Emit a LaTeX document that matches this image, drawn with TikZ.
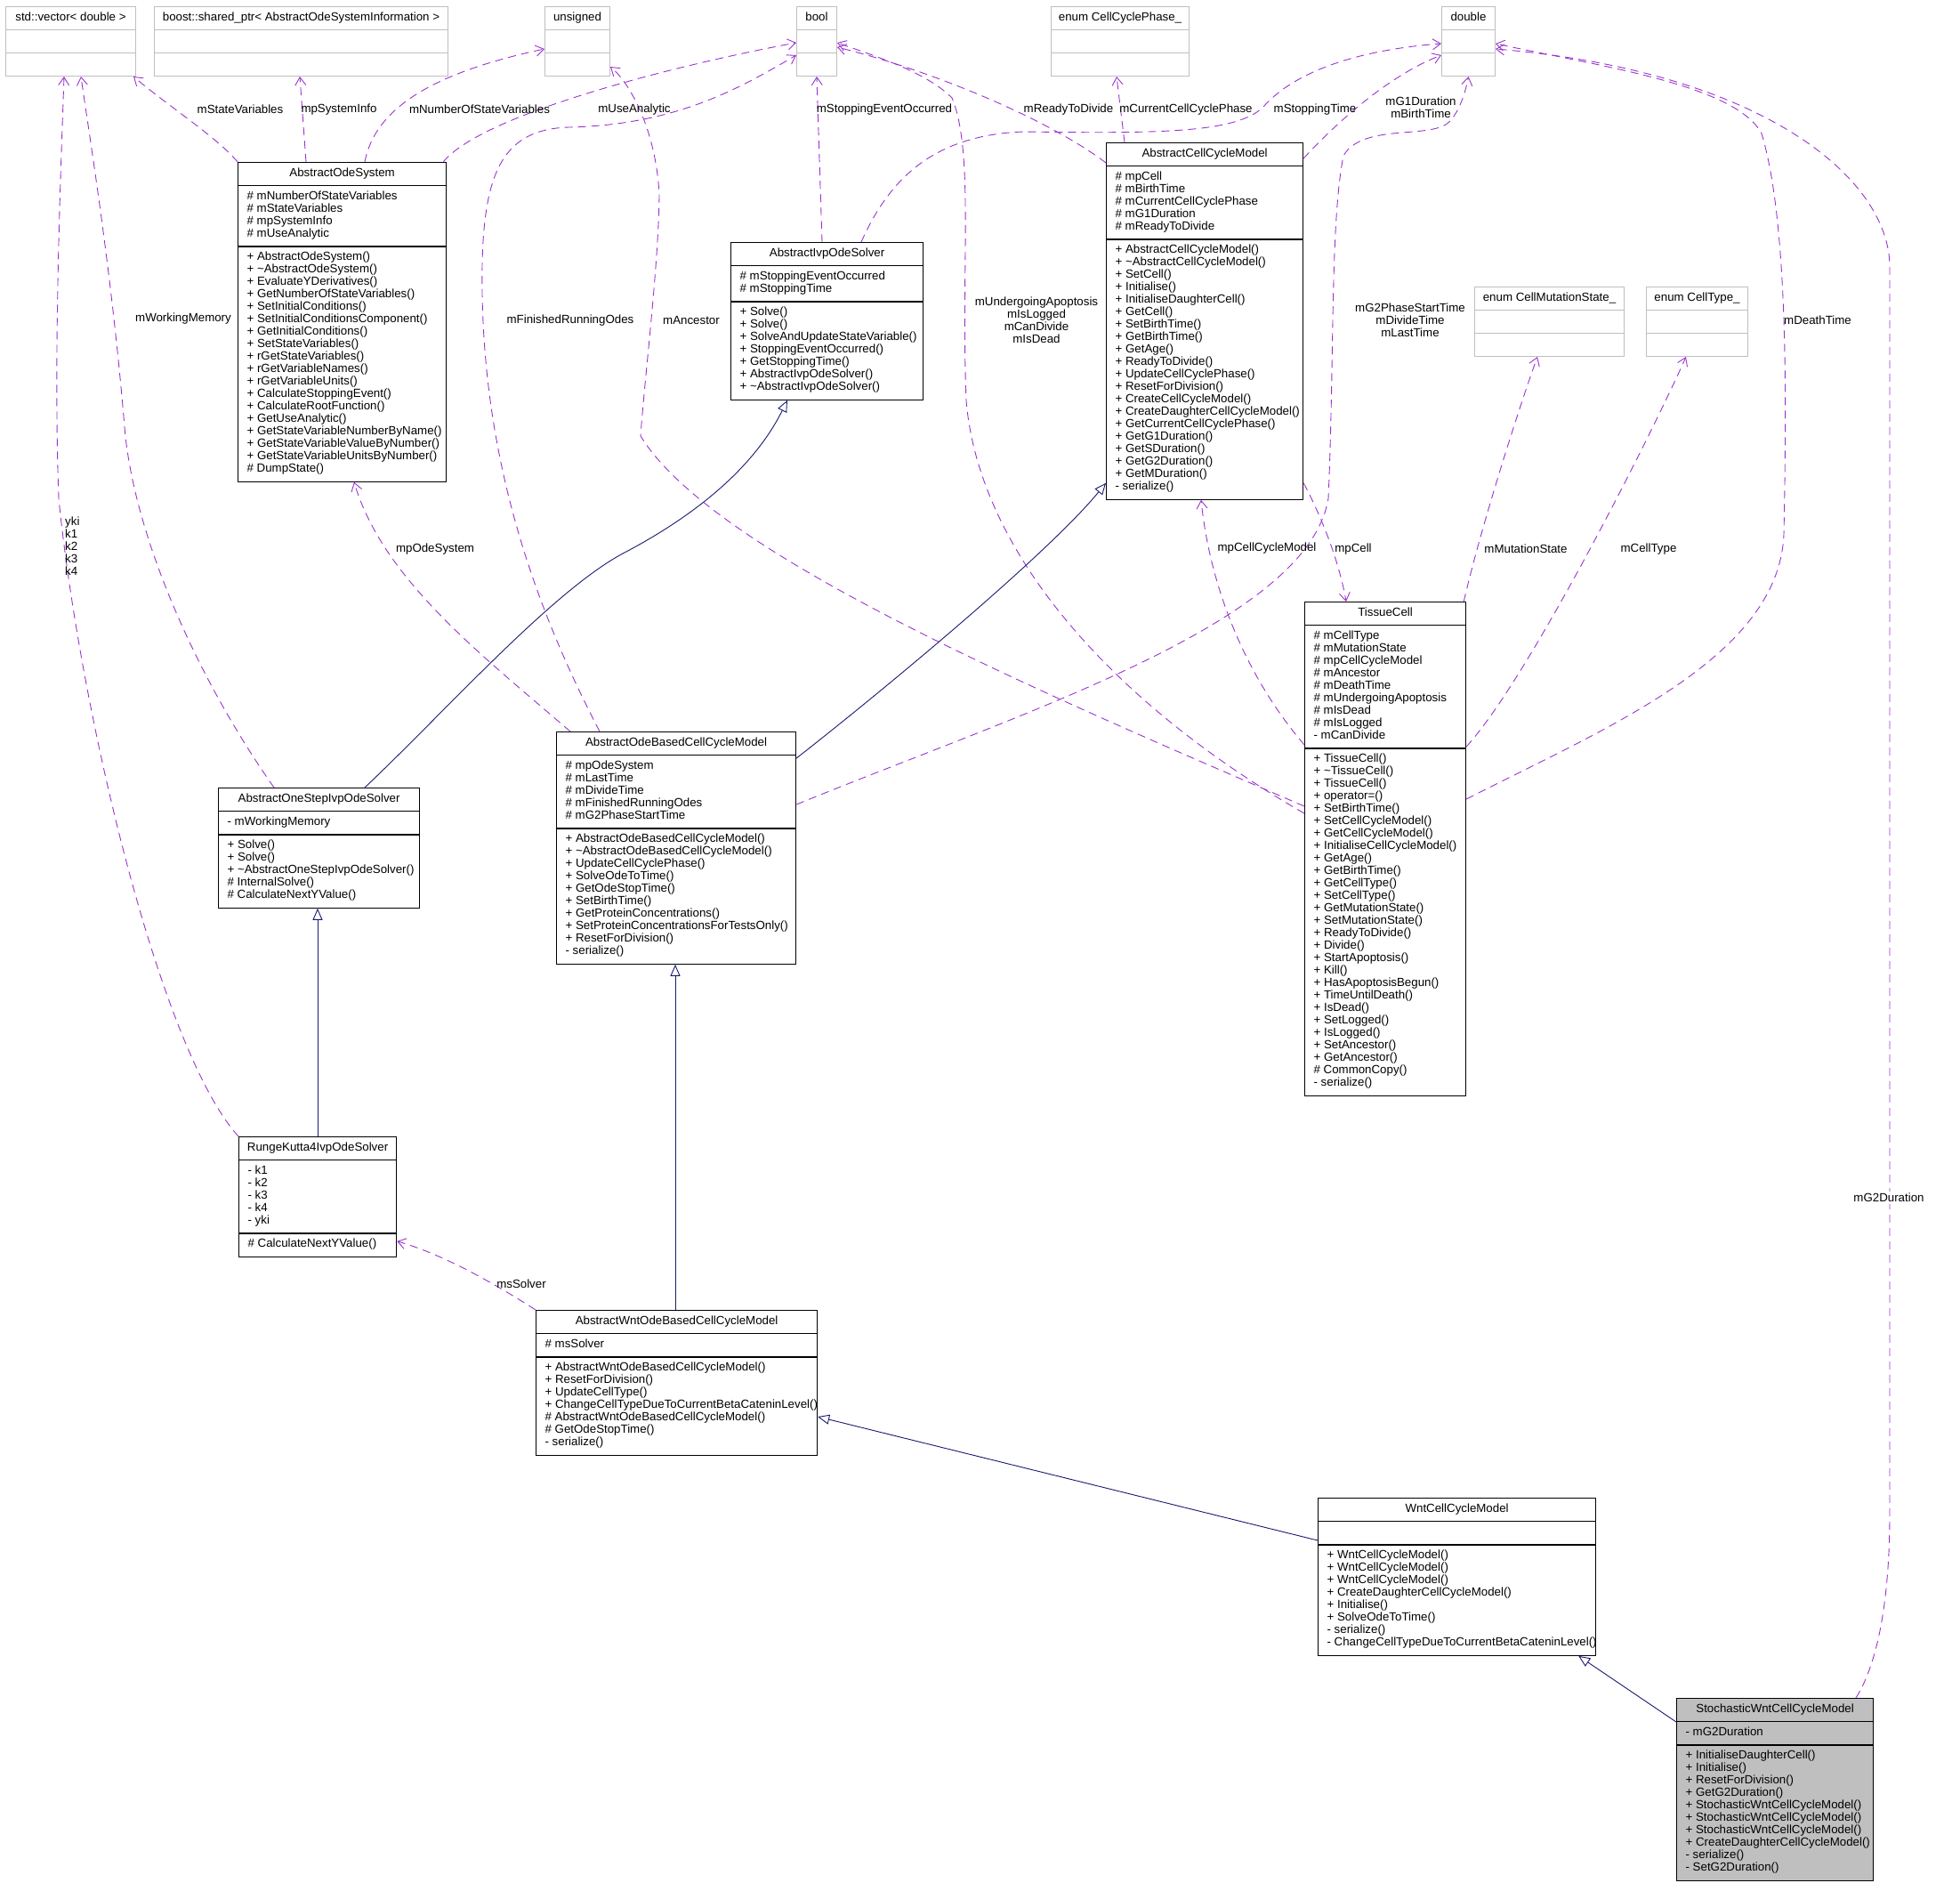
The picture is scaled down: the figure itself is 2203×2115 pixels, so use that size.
\documentclass[tikz,border=0pt]{standalone}
\usepackage{fontspec}
\setmainfont{Liberation Sans}
\usetikzlibrary{arrows.meta,shapes.multipart,calc}
\definecolor{umlpurple}{HTML}{9A32CD}
\definecolor{umlnavy}{HTML}{191970}
\definecolor{umlgray}{HTML}{BFBFBF}
\newcommand{\cpart}[3]{\makebox[\dimexpr#1pt-20pt\relax][#2]{\begin{tabular}{@{}#2@{}}\strut#3\end{tabular}}}
\tikzset{
  cls/.style={rectangle split, rectangle split parts=3, draw=black, line width=1.2pt, fill=white,
    anchor=north west, inner xsep=10pt, inner ysep=5.5pt, font=\fontsize{13.3}{14}\selectfont},
  ext/.style={cls, draw=umlgray, line width=1pt},
  hl/.style={cls, fill=umlgray},
  use/.style={draw=umlpurple, line width=0.9pt, dash pattern=on 9pt off 6pt,
    -{Straight Barb[length=9pt,width=12pt]}},
  inh/.style={draw=umlnavy, line width=0.9pt, -{Triangle[open,length=13pt,width=11pt]}},
  lbl/.style={font=\fontsize{13.3}{14}\selectfont, align=center, inner sep=0pt},
}

\begin{document}
\begin{tikzpicture}[x=1pt, y=-1pt]
  \useasboundingbox (0,0) rectangle (2203,2115);
  % types on top
  \node[ext] (vec) at (6,7) {\cpart{146}{c}{std::vector< double >}\nodepart{two}\cpart{146}{l}{}\nodepart{three}\cpart{146}{l}{}};
  \node[ext] (boost) at (173,7) {\cpart{330}{c}{boost::shared\_ptr< AbstractOdeSystemInformation >}\nodepart{two}\cpart{330}{l}{}\nodepart{three}\cpart{330}{l}{}};
  \node[ext] (unsigned) at (612,7) {\cpart{73}{c}{unsigned}\nodepart{two}\cpart{73}{l}{}\nodepart{three}\cpart{73}{l}{}};
  \node[ext] (bool) at (895,7) {\cpart{45}{c}{bool}\nodepart{two}\cpart{45}{l}{}\nodepart{three}\cpart{45}{l}{}};
  \node[ext] (ccphase) at (1181,7) {\cpart{155}{c}{enum CellCyclePhase\_}\nodepart{two}\cpart{155}{l}{}\nodepart{three}\cpart{155}{l}{}};
  \node[ext] (double) at (1620,7) {\cpart{60}{c}{double}\nodepart{two}\cpart{60}{l}{}\nodepart{three}\cpart{60}{l}{}};
  \node[ext] (mutstate) at (1657,322) {\cpart{168}{c}{enum CellMutationState\_}\nodepart{two}\cpart{168}{l}{}\nodepart{three}\cpart{168}{l}{}};
  \node[ext] (celltype) at (1850,322) {\cpart{114}{c}{enum CellType\_}\nodepart{two}\cpart{114}{l}{}\nodepart{three}\cpart{114}{l}{}};

  % classes
  \node[cls] (aos) at (267,182) {\cpart{234}{c}{AbstractOdeSystem}
    \nodepart{two}\cpart{234}{l}{\# mNumberOfStateVariables\\\# mStateVariables\\\# mpSystemInfo\\\# mUseAnalytic}
    \nodepart{three}\cpart{234}{l}{+ AbstractOdeSystem()\\+ \textasciitilde AbstractOdeSystem()\\+ EvaluateYDerivatives()\\+ GetNumberOfStateVariables()\\+ SetInitialConditions()\\+ SetInitialConditionsComponent()\\+ GetInitialConditions()\\+ SetStateVariables()\\+ rGetStateVariables()\\+ rGetVariableNames()\\+ rGetVariableUnits()\\+ CalculateStoppingEvent()\\+ CalculateRootFunction()\\+ GetUseAnalytic()\\+ GetStateVariableNumberByName()\\+ GetStateVariableValueByNumber()\\+ GetStateVariableUnitsByNumber()\\\# DumpState()}};
  \node[cls] (aios) at (821,272) {\cpart{216}{c}{AbstractIvpOdeSolver}
    \nodepart{two}\cpart{216}{l}{\# mStoppingEventOccurred\\\# mStoppingTime}
    \nodepart{three}\cpart{216}{l}{+ Solve()\\+ Solve()\\+ SolveAndUpdateStateVariable()\\+ StoppingEventOccurred()\\+ GetStoppingTime()\\+ AbstractIvpOdeSolver()\\+ \textasciitilde AbstractIvpOdeSolver()}};
  \node[cls] (accm) at (1243,160) {\cpart{221}{c}{AbstractCellCycleModel}
    \nodepart{two}\cpart{221}{l}{\# mpCell\\\# mBirthTime\\\# mCurrentCellCyclePhase\\\# mG1Duration\\\# mReadyToDivide}
    \nodepart{three}\cpart{221}{l}{+ AbstractCellCycleModel()\\+ \textasciitilde AbstractCellCycleModel()\\+ SetCell()\\+ Initialise()\\+ InitialiseDaughterCell()\\+ GetCell()\\+ SetBirthTime()\\+ GetBirthTime()\\+ GetAge()\\+ ReadyToDivide()\\+ UpdateCellCyclePhase()\\+ ResetForDivision()\\+ CreateCellCycleModel()\\+ CreateDaughterCellCycleModel()\\+ GetCurrentCellCyclePhase()\\+ GetG1Duration()\\+ GetSDuration()\\+ GetG2Duration()\\+ GetMDuration()\\- serialize()}};
  \node[cls] (tcell) at (1466,676) {\cpart{181}{c}{TissueCell}
    \nodepart{two}\cpart{181}{l}{\# mCellType\\\# mMutationState\\\# mpCellCycleModel\\\# mAncestor\\\# mDeathTime\\\# mUndergoingApoptosis\\\# mIsDead\\\# mIsLogged\\- mCanDivide}
    \nodepart{three}\cpart{181}{l}{+ TissueCell()\\+ \textasciitilde TissueCell()\\+ TissueCell()\\+ operator=()\\+ SetBirthTime()\\+ SetCellCycleModel()\\+ GetCellCycleModel()\\+ InitialiseCellCycleModel()\\+ GetAge()\\+ GetBirthTime()\\+ GetCellType()\\+ SetCellType()\\+ GetMutationState()\\+ SetMutationState()\\+ ReadyToDivide()\\+ Divide()\\+ StartApoptosis()\\+ Kill()\\+ HasApoptosisBegun()\\+ TimeUntilDeath()\\+ IsDead()\\+ SetLogged()\\+ IsLogged()\\+ SetAncestor()\\+ GetAncestor()\\\# CommonCopy()\\- serialize()}};
  \node[cls] (aobccm) at (625,822) {\cpart{269}{c}{AbstractOdeBasedCellCycleModel}
    \nodepart{two}\cpart{269}{l}{\# mpOdeSystem\\\# mLastTime\\\# mDivideTime\\\# mFinishedRunningOdes\\\# mG2PhaseStartTime}
    \nodepart{three}\cpart{269}{l}{+ AbstractOdeBasedCellCycleModel()\\+ \textasciitilde AbstractOdeBasedCellCycleModel()\\+ UpdateCellCyclePhase()\\+ SolveOdeToTime()\\+ GetOdeStopTime()\\+ SetBirthTime()\\+ GetProteinConcentrations()\\+ SetProteinConcentrationsForTestsOnly()\\+ ResetForDivision()\\- serialize()}};
  \node[cls] (aosios) at (245,885) {\cpart{226}{c}{AbstractOneStepIvpOdeSolver}
    \nodepart{two}\cpart{226}{l}{- mWorkingMemory}
    \nodepart{three}\cpart{226}{l}{+ Solve()\\+ Solve()\\+ \textasciitilde AbstractOneStepIvpOdeSolver()\\\# InternalSolve()\\\# CalculateNextYValue()}};
  \node[cls] (rk4) at (268,1277) {\cpart{177}{c}{RungeKutta4IvpOdeSolver}
    \nodepart{two}\cpart{177}{l}{- k1\\- k2\\- k3\\- k4\\- yki}
    \nodepart{three}\cpart{177}{l}{\# CalculateNextYValue()}};
  \node[cls] (awob) at (602,1472) {\cpart{316}{c}{AbstractWntOdeBasedCellCycleModel}
    \nodepart{two}\cpart{316}{l}{\# msSolver}
    \nodepart{three}\cpart{316}{l}{+ AbstractWntOdeBasedCellCycleModel()\\+ ResetForDivision()\\+ UpdateCellType()\\+ ChangeCellTypeDueToCurrentBetaCateninLevel()\\\# AbstractWntOdeBasedCellCycleModel()\\\# GetOdeStopTime()\\- serialize()}};
  \node[cls] (wnt) at (1481,1683) {\cpart{312}{c}{WntCellCycleModel}
    \nodepart{two}\cpart{312}{l}{}
    \nodepart{three}\cpart{312}{l}{+ WntCellCycleModel()\\+ WntCellCycleModel()\\+ WntCellCycleModel()\\+ CreateDaughterCellCycleModel()\\+ Initialise()\\+ SolveOdeToTime()\\- serialize()\\- ChangeCellTypeDueToCurrentBetaCateninLevel()}};
  \node[hl] (stoch) at (1884,1908) {\cpart{221}{c}{StochasticWntCellCycleModel}
    \nodepart{two}\cpart{221}{l}{- mG2Duration}
    \nodepart{three}\cpart{221}{l}{+ InitialiseDaughterCell()\\+ Initialise()\\+ ResetForDivision()\\+ GetG2Duration()\\+ StochasticWntCellCycleModel()\\+ StochasticWntCellCycleModel()\\+ StochasticWntCellCycleModel()\\+ CreateDaughterCellCycleModel()\\- serialize()\\- SetG2Duration()}};

  % members used
  \draw[use] (aos.north west) .. controls (245,155) and (190,120) .. ($(vec.south east)+(-3,0)$);
  \draw[use] ($(aos.north west)+(77,0)$) -- ($(boost.south west)+(164,0)$);
  \draw[use] ($(aos.north west)+(143,0)$) .. controls (420,130) and (470,85) .. ($(unsigned.north west)+(0,48)$);
  \draw[use] ($(aos.north east)+(-4,0)$) .. controls (540,130) and (750,75) .. ($(bool.north west)+(0,41)$);
  \draw[use] ($(aobccm.north west)+(49,0)$) .. controls (600,680) and (545,520) .. (542,330)
    .. controls (540,200) and (560,145) .. (640,143) .. controls (760,140) and (830,100) .. ($(bool.north west)+(0,55)$);
  \draw[use] ($(tcell.north west)+(0,230)$) .. controls (1150,770) and (800,620) .. (720,490)
    .. controls (725,420) and (740,300) .. (741,220) .. controls (738,150) and (710,95) .. ($(unsigned.south east)+(0,-11)$);
  \draw[use] ($(tcell.north west)+(0,238)$) .. controls (1250,790) and (1100,620) .. (1086,450)
    .. controls (1080,300) and (1095,170) .. (1070,110) .. controls (1040,80) and (980,62) .. ($(bool.north east)+(0,41)$);
  \draw[use] ($(aios.north west)+(103,0)$) -- (bool.south);
  \draw[use] ($(aios.north west)+(147,0)$) .. controls (1000,200) and (1050,152) .. (1150,148)
    .. controls (1300,150) and (1390,150) .. (1420,120) .. controls (1460,75) and (1540,55) .. ($(double.north west)+(0,42)$);
  \draw[use] ($(accm.north west)+(0,23)$) .. controls (1180,135) and (1050,80) .. ($(bool.north east)+(0,46)$);
  \draw[use] ($(accm.north west)+(21,0)$) -- ($(ccphase.south west)+(74,0)$);
  \draw[use] ($(accm.north east)+(0,18)$) .. controls (1500,140) and (1560,85) .. ($(double.north west)+(0,55)$);
  \draw[use] ($(aobccm.north east)+(0,82)$) .. controls (1150,800) and (1470,700) .. (1493,560)
    .. controls (1500,400) and (1495,250) .. (1510,175) .. controls (1530,140) and (1600,155) .. (1625,140)
    .. controls (1640,130) and (1648,100) .. (double.south);
  \draw[use] ($(tcell.north east)+(0,222)$) .. controls (1800,820) and (2000,740) .. (2005,600)
    .. controls (2008,450) and (2010,250) .. (1980,150) .. controls (1950,95) and (1800,75) .. ($(double.north east)+(0,42)$);
  \draw[use] ($(stoch.north west)+(202,0)$) .. controls (2110,1870) and (2124,1800) .. (2124,1700) -- (2124,300)
    .. controls (2124,200) and (1980,80) .. ($(double.north east)+(0,48)$);
  \draw[use] ($(accm.south east)+(0,-19)$) .. controls (1485,580) and (1505,630) .. ($(tcell.north west)+(47,0)$);
  \draw[use] ($(tcell.north west)+(0,161)$) .. controls (1400,760) and (1360,660) .. ($(accm.south west)+(107,0)$);
  \draw[use] ($(aobccm.north west)+(16,0)$) .. controls (540,735) and (430,650) .. ($(aos.south west)+(131,0)$);
  \draw[use] (awob.north west) .. controls (560,1445) and (500,1410) .. ($(rk4.south east)+(0,-18)$);
  \draw[use] ($(tcell.north east)+(-3,0)$) .. controls (1665,590) and (1710,450) .. ($(mutstate.south west)+(71,0)$);
  \draw[use] ($(tcell.north east)+(0,163)$) .. controls (1720,760) and (1860,480) .. ($(celltype.south west)+(45,0)$);
  \draw[use] ($(aosios.north west)+(63,0)$) .. controls (220,760) and (150,600) .. (140,480)
    .. controls (125,300) and (100,150) .. ($(vec.south west)+(85,0)$);
  \draw[use] (rk4.north west) .. controls (180,1180) and (90,800) .. (66,560)
    .. controls (60,400) and (68,200) .. ($(vec.south west)+(66,0)$);

  % inheritance
  \draw[inh] ($(aosios.north west)+(165,0)$) .. controls (500,800) and (620,665) .. (700,622)
    .. controls (790,575) and (850,520) .. ($(aios.south west)+(64,0)$);
  \draw[inh] ($(rk4.north west)+(89,0)$) -- ($(aosios.south west)+(112,0)$);
  \draw[inh] ($(aobccm.north east)+(0,30)$) .. controls (1000,770) and (1180,620) .. ($(accm.south west)+(0,-19)$);
  \draw[inh] ($(awob.north west)+(157,0)$) -- ($(aobccm.south west)+(134,0)$);
  \draw[inh] ($(wnt.north west)+(0,48)$) -- ($(awob.north east)+(0,120)$);
  \draw[inh] ($(stoch.north west)+(0,27)$) -- ($(wnt.south east)+(-20,0)$);

  % member names
  \node[lbl] (lStateVars) at (270,123) {mStateVariables};
  \node[lbl] (lSysInfo) at (381,123) {mpSystemInfo};
  \node[lbl] (lNumVars) at (539,123) {mNumberOfStateVariables};
  \node[lbl] (lUseAna) at (713,123) {mUseAnalytic};
  \node[lbl] (lStopEvt) at (994,123) {mStoppingEventOccurred};
  \node[lbl] (lReady) at (1201,123) {mReadyToDivide};
  \node[lbl] (lPhase) at (1333,123) {mCurrentCellCyclePhase};
  \node[lbl] (lStopTime) at (1478,123) {mStoppingTime};
  \node[lbl] (lG1) at (1597,121) {mG1Duration\\mBirthTime};
  \node[lbl] (lWorkMem) at (206,358) {mWorkingMemory};
  \node[lbl] (lFinished) at (641,360) {mFinishedRunningOdes};
  \node[lbl] (lAncestor) at (777,360) {mAncestor};
  \node[lbl] (lApoptosis) at (1165,360) {mUndergoingApoptosis\\mIsLogged\\mCanDivide\\mIsDead};
  \node[lbl] (lG2Phase) at (1585,360) {mG2PhaseStartTime\\mDivideTime\\mLastTime};
  \node[lbl] (lDeath) at (2043,360) {mDeathTime};
  \node[lbl] (lOdeSys) at (489,617) {mpOdeSystem};
  \node[lbl] (lCcm) at (1424,616) {mpCellCycleModel};
  \node[lbl] (lCell) at (1521,617) {mpCell};
  \node[lbl] (lMut) at (1715,617) {mMutationState};
  \node[lbl] (lType) at (1853,617) {mCellType};
  \node[lbl, align=left, anchor=north west] (lRk) at (73,581) {yki\\k1\\k2\\k3\\k4};
  \node[lbl] (lSolver) at (586,1443) {msSolver};
  \node[lbl, fill=white, inner sep=2pt] (lG2) at (2123,1346) {mG2Duration};
\end{tikzpicture}
\end{document}
